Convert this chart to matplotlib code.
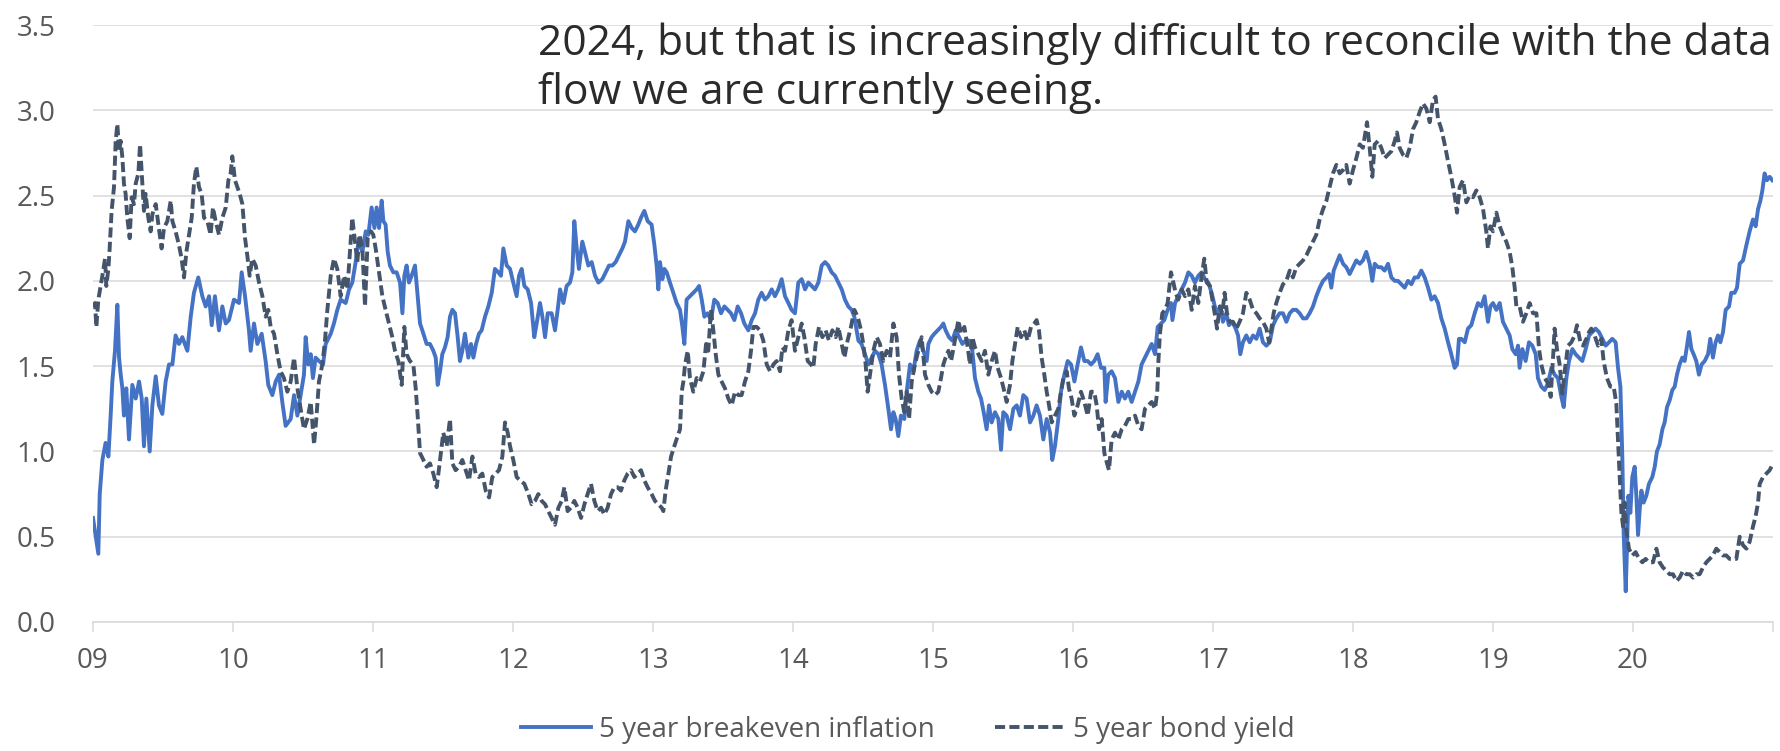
import matplotlib
matplotlib.use("Agg")
import matplotlib.pyplot as plt
import numpy as np
from matplotlib.lines import Line2D

# ---------------------------------------------------------------------------
# Data: 5 year breakeven inflation and 5 year bond yield (%), by decimal year
# ---------------------------------------------------------------------------
breakeven_t = [
    2009.000, 2009.038, 2009.048, 2009.067, 2009.090, 2009.110, 2009.126, 2009.138, 2009.157, 2009.174,
    2009.186, 2009.198, 2009.210, 2009.221, 2009.238, 2009.257, 2009.281, 2009.305, 2009.329, 2009.348,
    2009.364, 2009.381, 2009.405, 2009.424, 2009.448, 2009.471, 2009.495, 2009.519, 2009.543, 2009.567,
    2009.590, 2009.614, 2009.638, 2009.674, 2009.698, 2009.721, 2009.752, 2009.781, 2009.805, 2009.829,
    2009.848, 2009.871, 2009.900, 2009.924, 2009.948, 2009.971,
    2010.007, 2010.043, 2010.062, 2010.086, 2010.114, 2010.126, 2010.150, 2010.174, 2010.205, 2010.233,
    2010.252, 2010.281, 2010.305, 2010.329, 2010.352, 2010.376, 2010.412, 2010.436, 2010.460, 2010.483,
    2010.507, 2010.519, 2010.538, 2010.555, 2010.571, 2010.590, 2010.614, 2010.643, 2010.662, 2010.698,
    2010.721, 2010.745, 2010.769, 2010.805, 2010.829, 2010.852, 2010.876, 2010.900, 2010.924, 2010.948,
    2010.967, 2010.990,
    2011.010, 2011.026, 2011.043, 2011.062, 2011.074, 2011.090, 2011.105, 2011.121, 2011.145, 2011.169,
    2011.193, 2011.210, 2011.224, 2011.240, 2011.257, 2011.276, 2011.300, 2011.319, 2011.336, 2011.360,
    2011.383, 2011.407, 2011.431, 2011.448, 2011.462, 2011.479, 2011.495, 2011.514, 2011.533, 2011.550,
    2011.567, 2011.586, 2011.605, 2011.621, 2011.638, 2011.657, 2011.681, 2011.700, 2011.717, 2011.736,
    2011.757, 2011.776, 2011.800, 2011.824, 2011.848, 2011.871, 2011.895, 2011.914, 2011.931, 2011.955,
    2011.979,
    2012.002, 2012.026, 2012.043, 2012.062, 2012.081, 2012.105, 2012.129, 2012.152, 2012.169, 2012.193,
    2012.210, 2012.229, 2012.248, 2012.276, 2012.300, 2012.319, 2012.336, 2012.360, 2012.383, 2012.407,
    2012.424, 2012.438, 2012.455, 2012.471, 2012.495, 2012.514, 2012.538, 2012.562, 2012.586, 2012.610,
    2012.638, 2012.662, 2012.686, 2012.710, 2012.733, 2012.757, 2012.781, 2012.800, 2012.824, 2012.848,
    2012.871, 2012.895, 2012.914, 2012.938, 2012.962, 2012.990,
    2013.010, 2013.026, 2013.038, 2013.050, 2013.067, 2013.081, 2013.098, 2013.121, 2013.145, 2013.169,
    2013.193, 2013.210, 2013.224, 2013.240, 2013.264, 2013.288, 2013.312, 2013.329, 2013.348, 2013.367,
    2013.390, 2013.414, 2013.438, 2013.462, 2013.486, 2013.510, 2013.533, 2013.557, 2013.581, 2013.605,
    2013.629, 2013.652, 2013.681, 2013.705, 2013.729, 2013.752, 2013.776, 2013.800, 2013.824, 2013.848,
    2013.871, 2013.895, 2013.919, 2013.943, 2013.967, 2013.990,
    2014.014, 2014.038, 2014.062, 2014.086, 2014.110, 2014.133, 2014.157, 2014.181, 2014.205, 2014.229,
    2014.252, 2014.276, 2014.300, 2014.324, 2014.348, 2014.371, 2014.395, 2014.419, 2014.438, 2014.455,
    2014.467, 2014.490, 2014.514, 2014.538, 2014.562, 2014.586, 2014.610, 2014.633, 2014.657, 2014.681,
    2014.700, 2014.717, 2014.733, 2014.752, 2014.771, 2014.795, 2014.812, 2014.836, 2014.860, 2014.883,
    2014.907, 2014.931, 2014.955, 2014.967, 2014.990,
    2015.010, 2015.033, 2015.057, 2015.074, 2015.090, 2015.114, 2015.138, 2015.162, 2015.186, 2015.210,
    2015.233, 2015.257, 2015.281, 2015.300, 2015.324, 2015.343, 2015.362, 2015.383, 2015.400, 2015.419,
    2015.443, 2015.467, 2015.486, 2015.502, 2015.526, 2015.550, 2015.574, 2015.598, 2015.621, 2015.645,
    2015.669, 2015.693, 2015.717, 2015.740, 2015.764, 2015.788, 2015.812, 2015.836, 2015.852, 2015.871,
    2015.895, 2015.914, 2015.938, 2015.962, 2015.986,
    2016.010, 2016.033, 2016.057, 2016.081, 2016.105, 2016.129, 2016.152, 2016.176, 2016.200, 2016.224,
    2016.233, 2016.252, 2016.276, 2016.300, 2016.324, 2016.348, 2016.371, 2016.395, 2016.419, 2016.443,
    2016.467, 2016.490, 2016.514, 2016.538, 2016.562, 2016.586, 2016.605, 2016.629, 2016.652, 2016.676,
    2016.700, 2016.710, 2016.729, 2016.752, 2016.776, 2016.800, 2016.824, 2016.848, 2016.871, 2016.895,
    2016.919, 2016.943, 2016.967, 2016.990,
    2017.019, 2017.036, 2017.052, 2017.071, 2017.095, 2017.114, 2017.138, 2017.162, 2017.179, 2017.195,
    2017.214, 2017.238, 2017.262, 2017.286, 2017.310, 2017.333, 2017.357, 2017.381, 2017.405, 2017.429,
    2017.452, 2017.476, 2017.500, 2017.524, 2017.548, 2017.571, 2017.595, 2017.619, 2017.643, 2017.667,
    2017.690, 2017.714, 2017.738, 2017.762, 2017.786, 2017.810, 2017.829, 2017.845, 2017.862, 2017.881,
    2017.905, 2017.929, 2017.952, 2017.976,
    2018.000, 2018.024, 2018.048, 2018.071, 2018.095, 2018.119, 2018.138, 2018.155, 2018.179, 2018.202,
    2018.226, 2018.250, 2018.274, 2018.298, 2018.321, 2018.345, 2018.369, 2018.393, 2018.417, 2018.440,
    2018.464, 2018.488, 2018.512, 2018.536, 2018.560, 2018.583, 2018.607, 2018.631, 2018.655, 2018.679,
    2018.702, 2018.726, 2018.743, 2018.757, 2018.774, 2018.798, 2018.821, 2018.845, 2018.869, 2018.893,
    2018.917, 2018.940, 2018.964, 2018.981,
    2019.000, 2019.024, 2019.048, 2019.071, 2019.095, 2019.119, 2019.138, 2019.162, 2019.179, 2019.190,
    2019.210, 2019.233, 2019.257, 2019.281, 2019.305, 2019.321, 2019.345, 2019.369, 2019.393, 2019.417,
    2019.440, 2019.464, 2019.488, 2019.505, 2019.524, 2019.543, 2019.567, 2019.590, 2019.614, 2019.638,
    2019.662, 2019.686, 2019.710, 2019.733, 2019.757, 2019.781, 2019.805, 2019.829, 2019.852, 2019.876,
    2019.893, 2019.910, 2019.924, 2019.933, 2019.948, 2019.957, 2019.967, 2019.981, 2019.995,
    2020.012, 2020.024, 2020.036, 2020.048, 2020.060, 2020.076, 2020.095, 2020.114, 2020.138, 2020.155,
    2020.171, 2020.190, 2020.210, 2020.226, 2020.243, 2020.262, 2020.281, 2020.298, 2020.314, 2020.333,
    2020.352, 2020.369, 2020.386, 2020.400, 2020.417, 2020.433, 2020.452, 2020.471, 2020.490, 2020.512,
    2020.536, 2020.552, 2020.571, 2020.590, 2020.607, 2020.624, 2020.643, 2020.662, 2020.686, 2020.702,
    2020.726, 2020.743, 2020.762, 2020.786, 2020.810, 2020.833, 2020.857, 2020.876, 2020.893, 2020.910,
    2020.924, 2020.940, 2020.957, 2020.976, 2020.995,
]
breakeven = [
    0.61, 0.40, 0.75, 0.95, 1.05, 0.97, 1.21, 1.41, 1.59, 1.86,
    1.55, 1.45, 1.37, 1.21, 1.37, 1.07, 1.39, 1.31, 1.41, 1.31,
    1.03, 1.31, 1.00, 1.27, 1.44, 1.27, 1.22, 1.41, 1.51, 1.51,
    1.68, 1.63, 1.67, 1.59, 1.79, 1.93, 2.02, 1.91, 1.85, 1.91,
    1.74, 1.91, 1.71, 1.85, 1.75, 1.77,
    1.89, 1.87, 2.05, 1.91, 1.71, 1.59, 1.75, 1.63, 1.69, 1.53,
    1.39, 1.33, 1.41, 1.45, 1.29, 1.15, 1.19, 1.33, 1.21, 1.33,
    1.45, 1.67, 1.51, 1.57, 1.43, 1.55, 1.53, 1.51, 1.63, 1.69,
    1.75, 1.83, 1.89, 1.87, 1.95, 1.99, 2.11, 2.25, 2.17, 2.29,
    2.27, 2.43,
    2.31, 2.43, 2.31, 2.47, 2.35, 2.33, 2.17, 2.09, 2.05, 2.05,
    1.99, 1.81, 2.03, 2.09, 1.99, 2.03, 2.09, 1.91, 1.75, 1.69,
    1.63, 1.63, 1.59, 1.55, 1.39, 1.47, 1.57, 1.61, 1.67, 1.79,
    1.83, 1.81, 1.67, 1.53, 1.59, 1.69, 1.55, 1.63, 1.55, 1.63,
    1.69, 1.71, 1.79, 1.85, 1.93, 2.07, 2.05, 2.03, 2.19, 2.09,
    2.07,
    1.99, 1.91, 2.03, 2.07, 1.97, 1.95, 1.87, 1.67, 1.75, 1.87,
    1.79, 1.67, 1.81, 1.81, 1.71, 1.83, 1.95, 1.87, 1.97, 1.99,
    2.05, 2.35, 2.19, 2.07, 2.23, 2.17, 2.09, 2.11, 2.03, 1.99,
    2.01, 2.05, 2.09, 2.09, 2.11, 2.15, 2.19, 2.23, 2.35, 2.31,
    2.29, 2.33, 2.37, 2.41, 2.35, 2.33,
    2.21, 2.09, 1.95, 2.11, 2.01, 2.07, 2.05, 1.99, 1.93, 1.87,
    1.83, 1.73, 1.63, 1.89, 1.91, 1.93, 1.95, 1.97, 1.89, 1.79,
    1.81, 1.77, 1.89, 1.87, 1.81, 1.85, 1.83, 1.81, 1.77, 1.85,
    1.81, 1.75, 1.71, 1.77, 1.81, 1.89, 1.93, 1.89, 1.91, 1.95,
    1.91, 1.95, 2.01, 1.91, 1.87, 1.83,
    1.81, 1.99, 2.01, 1.95, 1.99, 1.97, 1.95, 1.99, 2.09, 2.11,
    2.09, 2.05, 2.03, 1.99, 1.95, 1.89, 1.85, 1.83, 1.79, 1.71,
    1.65, 1.63, 1.57, 1.51, 1.55, 1.59, 1.57, 1.51, 1.39, 1.25,
    1.13, 1.23, 1.19, 1.09, 1.21, 1.19, 1.35, 1.51, 1.47, 1.59,
    1.65, 1.59, 1.53, 1.63, 1.67,
    1.69, 1.71, 1.73, 1.75, 1.71, 1.67, 1.65, 1.71, 1.67, 1.63,
    1.65, 1.65, 1.59, 1.43, 1.35, 1.31, 1.23, 1.13, 1.27, 1.17,
    1.23, 1.19, 1.01, 1.23, 1.21, 1.13, 1.25, 1.27, 1.21, 1.33,
    1.31, 1.17, 1.21, 1.27, 1.21, 1.07, 1.19, 1.11, 0.95, 1.03,
    1.19, 1.35, 1.45, 1.53, 1.51,
    1.41, 1.51, 1.61, 1.53, 1.53, 1.51, 1.53, 1.57, 1.49, 1.49,
    1.29, 1.45, 1.47, 1.43, 1.29, 1.35, 1.31, 1.35, 1.29, 1.35,
    1.41, 1.51, 1.55, 1.59, 1.63, 1.57, 1.73, 1.75, 1.77, 1.83,
    1.87, 1.77, 1.87, 1.91, 1.95, 1.99, 2.05, 2.03, 1.99, 2.03,
    2.05, 2.01, 1.99, 1.93,
    1.83, 1.81, 1.85, 1.76, 1.81, 1.74, 1.76, 1.72, 1.68, 1.57,
    1.64, 1.68, 1.64, 1.68, 1.66, 1.72, 1.64, 1.62, 1.64, 1.74,
    1.78, 1.81, 1.81, 1.76, 1.81, 1.83, 1.83, 1.81, 1.78, 1.78,
    1.81, 1.85, 1.91, 1.96, 2.00, 2.02, 2.04, 1.96, 2.06, 2.10,
    2.15, 2.10, 2.08, 2.04,
    2.08, 2.12, 2.10, 2.12, 2.17, 2.10, 2.00, 2.10, 2.08, 2.08,
    2.06, 2.10, 2.02, 2.00, 2.00, 1.98, 1.96, 2.00, 1.98, 2.02,
    2.02, 2.06, 2.02, 1.96, 1.89, 1.91, 1.87, 1.78, 1.72, 1.64,
    1.57, 1.49, 1.51, 1.66, 1.66, 1.64, 1.72, 1.74, 1.81, 1.87,
    1.85, 1.91, 1.76, 1.85,
    1.87, 1.83, 1.87, 1.76, 1.72, 1.68, 1.60, 1.57, 1.62, 1.49,
    1.60, 1.53, 1.64, 1.62, 1.57, 1.43, 1.38, 1.36, 1.40, 1.49,
    1.45, 1.43, 1.32, 1.26, 1.43, 1.53, 1.60, 1.57, 1.55, 1.53,
    1.60, 1.68, 1.70, 1.72, 1.70, 1.66, 1.62, 1.64, 1.66, 1.64,
    1.49, 1.38, 0.96, 0.53, 0.18, 0.43, 0.74, 0.64, 0.85,
    0.91, 0.74, 0.51, 0.66, 0.77, 0.70, 0.74, 0.81, 0.85, 0.91,
    1.00, 1.04, 1.13, 1.17, 1.26, 1.30, 1.36, 1.38, 1.45, 1.51,
    1.55, 1.53, 1.62, 1.70, 1.60, 1.57, 1.53, 1.45, 1.51, 1.53,
    1.57, 1.66, 1.55, 1.64, 1.68, 1.64, 1.70, 1.83, 1.85, 1.93,
    1.93, 1.96, 2.10, 2.12, 2.21, 2.29, 2.36, 2.32, 2.42, 2.47,
    2.53, 2.63, 2.59, 2.61, 2.59,
]

bond_t = [
    2009.000, 2009.014, 2009.024, 2009.038, 2009.055, 2009.067, 2009.086, 2009.095, 2009.110, 2009.119,
    2009.133, 2009.150, 2009.162, 2009.174, 2009.186, 2009.198, 2009.210, 2009.221, 2009.233, 2009.245,
    2009.262, 2009.276, 2009.293, 2009.305, 2009.324, 2009.336, 2009.348, 2009.364, 2009.376, 2009.395,
    2009.412, 2009.424, 2009.448, 2009.467, 2009.490, 2009.507, 2009.531, 2009.555, 2009.567, 2009.590,
    2009.614, 2009.633, 2009.650, 2009.667, 2009.686, 2009.705, 2009.721, 2009.738, 2009.757, 2009.776,
    2009.793, 2009.817, 2009.840, 2009.857, 2009.876, 2009.900, 2009.924, 2009.948, 2009.967, 2009.983, 2009.995,
    2010.014, 2010.031, 2010.048, 2010.067, 2010.086, 2010.102, 2010.119, 2010.138, 2010.162, 2010.186,
    2010.210, 2010.233, 2010.252, 2010.269, 2010.293, 2010.317, 2010.340, 2010.364, 2010.388, 2010.412,
    2010.436, 2010.460, 2010.483, 2010.507, 2010.531, 2010.555, 2010.579, 2010.595, 2010.614, 2010.638,
    2010.657, 2010.674, 2010.698, 2010.721, 2010.745, 2010.769, 2010.793, 2010.817, 2010.840, 2010.852,
    2010.871, 2010.888, 2010.905, 2010.924, 2010.943, 2010.962, 2010.986,
    2011.002, 2011.019, 2011.043, 2011.067, 2011.090, 2011.114, 2011.138, 2011.157, 2011.181, 2011.205,
    2011.224, 2011.240, 2011.264, 2011.288, 2011.305, 2011.319, 2011.336, 2011.360, 2011.383, 2011.407,
    2011.431, 2011.455, 2011.479, 2011.502, 2011.526, 2011.550, 2011.567, 2011.590, 2011.614, 2011.638,
    2011.662, 2011.686, 2011.710, 2011.733, 2011.757, 2011.781, 2011.805, 2011.829, 2011.852, 2011.876,
    2011.900, 2011.924, 2011.943, 2011.962, 2011.979,
    2012.002, 2012.026, 2012.050, 2012.081, 2012.110, 2012.133, 2012.157, 2012.181, 2012.205, 2012.229,
    2012.252, 2012.276, 2012.300, 2012.324, 2012.348, 2012.367, 2012.390, 2012.414, 2012.438, 2012.462,
    2012.486, 2012.510, 2012.533, 2012.557, 2012.581, 2012.605, 2012.629, 2012.652, 2012.676, 2012.700,
    2012.724, 2012.748, 2012.771, 2012.795, 2012.819, 2012.843, 2012.867, 2012.890, 2012.914, 2012.938,
    2012.962, 2012.990,
    2013.014, 2013.038, 2013.062, 2013.074, 2013.090, 2013.110, 2013.129, 2013.152, 2013.176, 2013.193,
    2013.205, 2013.217, 2013.229, 2013.248, 2013.264, 2013.288, 2013.312, 2013.336, 2013.360, 2013.379,
    2013.395, 2013.414, 2013.431, 2013.448, 2013.467, 2013.490, 2013.514, 2013.538, 2013.562, 2013.586,
    2013.610, 2013.633, 2013.657, 2013.681, 2013.700, 2013.717, 2013.740, 2013.764, 2013.788, 2013.812,
    2013.836, 2013.860, 2013.883, 2013.907, 2013.924, 2013.943, 2013.967, 2013.990,
    2014.014, 2014.038, 2014.062, 2014.081, 2014.105, 2014.129, 2014.145, 2014.162, 2014.186, 2014.210,
    2014.233, 2014.257, 2014.281, 2014.305, 2014.324, 2014.348, 2014.367, 2014.390, 2014.414, 2014.438,
    2014.462, 2014.486, 2014.502, 2014.519, 2014.533, 2014.550, 2014.574, 2014.598, 2014.621, 2014.645,
    2014.669, 2014.693, 2014.717, 2014.740, 2014.757, 2014.776, 2014.795, 2014.812, 2014.829, 2014.848,
    2014.871, 2014.895, 2014.919, 2014.943, 2014.967, 2014.990,
    2015.014, 2015.038, 2015.057, 2015.074, 2015.090, 2015.110, 2015.129, 2015.152, 2015.169, 2015.181,
    2015.200, 2015.224, 2015.248, 2015.264, 2015.281, 2015.300, 2015.324, 2015.348, 2015.371, 2015.395,
    2015.419, 2015.443, 2015.462, 2015.486, 2015.510, 2015.526, 2015.550, 2015.567, 2015.586, 2015.605,
    2015.629, 2015.652, 2015.676, 2015.700, 2015.724, 2015.740, 2015.757, 2015.776, 2015.795, 2015.812,
    2015.829, 2015.848, 2015.871, 2015.895, 2015.914, 2015.931, 2015.955, 2015.971, 2015.990,
    2016.010, 2016.033, 2016.057, 2016.081, 2016.105, 2016.129, 2016.152, 2016.169, 2016.186, 2016.205,
    2016.224, 2016.243, 2016.257, 2016.276, 2016.300, 2016.324, 2016.348, 2016.371, 2016.395, 2016.419,
    2016.443, 2016.467, 2016.490, 2016.514, 2016.538, 2016.562, 2016.586, 2016.602, 2016.610, 2016.621,
    2016.638, 2016.657, 2016.676, 2016.700, 2016.717, 2016.733, 2016.752, 2016.776, 2016.800, 2016.824,
    2016.848, 2016.871, 2016.895, 2016.919, 2016.938, 2016.955, 2016.979,
    2017.012, 2017.029, 2017.048, 2017.067, 2017.083, 2017.100, 2017.119, 2017.143, 2017.167, 2017.190,
    2017.214, 2017.238, 2017.262, 2017.286, 2017.310, 2017.333, 2017.357, 2017.381, 2017.400, 2017.417,
    2017.433, 2017.452, 2017.476, 2017.500, 2017.524, 2017.548, 2017.571, 2017.595, 2017.619, 2017.643,
    2017.667, 2017.690, 2017.714, 2017.738, 2017.762, 2017.786, 2017.810, 2017.833, 2017.857, 2017.881,
    2017.905, 2017.929, 2017.952, 2017.976,
    2018.000, 2018.024, 2018.048, 2018.071, 2018.100, 2018.119, 2018.138, 2018.155, 2018.179, 2018.202,
    2018.226, 2018.250, 2018.274, 2018.298, 2018.314, 2018.333, 2018.357, 2018.381, 2018.405, 2018.429,
    2018.452, 2018.476, 2018.500, 2018.524, 2018.548, 2018.571, 2018.590, 2018.607, 2018.631, 2018.655,
    2018.679, 2018.702, 2018.726, 2018.743, 2018.762, 2018.786, 2018.810, 2018.833, 2018.857, 2018.881,
    2018.905, 2018.929, 2018.952, 2018.964, 2018.981,
    2019.000, 2019.024, 2019.048, 2019.071, 2019.095, 2019.119, 2019.138, 2019.155, 2019.167, 2019.190,
    2019.214, 2019.238, 2019.262, 2019.286, 2019.310, 2019.329, 2019.345, 2019.369, 2019.393, 2019.412,
    2019.429, 2019.440, 2019.457, 2019.476, 2019.495, 2019.512, 2019.536, 2019.560, 2019.583, 2019.600,
    2019.624, 2019.643, 2019.667, 2019.686, 2019.702, 2019.726, 2019.750, 2019.774, 2019.790, 2019.814,
    2019.838, 2019.862, 2019.881, 2019.893, 2019.905, 2019.917, 2019.929, 2019.940, 2019.952, 2019.971, 2019.995,
    2020.019, 2020.043, 2020.067, 2020.090, 2020.114, 2020.143, 2020.167, 2020.190, 2020.214, 2020.238,
    2020.262, 2020.286, 2020.310, 2020.333, 2020.357, 2020.381, 2020.405, 2020.429, 2020.452, 2020.476,
    2020.500, 2020.524, 2020.548, 2020.571, 2020.595, 2020.619, 2020.643, 2020.667, 2020.690, 2020.714,
    2020.738, 2020.762, 2020.786, 2020.810, 2020.833, 2020.857, 2020.876, 2020.893, 2020.905, 2020.929,
    2020.952, 2020.976, 2020.995,
]
bond_yield = [
    1.85, 1.87, 1.73, 1.89, 1.97, 2.03, 2.13, 1.97, 2.07, 2.19,
    2.41, 2.55, 2.82, 2.92, 2.76, 2.82, 2.72, 2.57, 2.51, 2.37,
    2.25, 2.49, 2.45, 2.57, 2.63, 2.80, 2.63, 2.41, 2.51, 2.37,
    2.29, 2.39, 2.45, 2.33, 2.19, 2.31, 2.35, 2.47, 2.35, 2.29,
    2.21, 2.13, 2.02, 2.17, 2.27, 2.37, 2.57, 2.67, 2.55, 2.51,
    2.37, 2.35, 2.27, 2.43, 2.35, 2.27, 2.37, 2.43, 2.59, 2.63, 2.73,
    2.59, 2.55, 2.51, 2.45, 2.25, 2.15, 2.03, 2.13, 2.09, 1.99,
    1.91, 1.79, 1.83, 1.73, 1.69, 1.57, 1.47, 1.43, 1.35, 1.41,
    1.55, 1.37, 1.25, 1.13, 1.19, 1.29, 1.04, 1.19, 1.41, 1.51,
    1.65, 1.83, 2.03, 2.13, 2.07, 1.91, 2.03, 1.95, 2.23, 2.37,
    2.23, 2.11, 2.27, 2.19, 1.85, 2.25, 2.29,
    2.27, 2.19, 2.05, 1.91, 1.83, 1.75, 1.67, 1.59, 1.53, 1.39,
    1.73, 1.57, 1.53, 1.51, 1.37, 1.21, 0.99, 0.95, 0.91, 0.93,
    0.87, 0.79, 0.95, 1.11, 1.03, 1.19, 0.93, 0.89, 0.91, 0.95,
    0.89, 0.83, 0.97, 0.87, 0.85, 0.87, 0.77, 0.73, 0.85, 0.87,
    0.89, 0.97, 1.17, 1.11, 1.03,
    0.95, 0.85, 0.83, 0.81, 0.75, 0.69, 0.71, 0.75, 0.71, 0.69,
    0.65, 0.61, 0.57, 0.67, 0.71, 0.79, 0.65, 0.67, 0.71, 0.67,
    0.61, 0.69, 0.75, 0.81, 0.71, 0.65, 0.67, 0.63, 0.67, 0.75,
    0.79, 0.79, 0.77, 0.83, 0.87, 0.89, 0.85, 0.87, 0.89, 0.83,
    0.79, 0.75,
    0.71, 0.69, 0.67, 0.65, 0.77, 0.87, 0.97, 1.03, 1.09, 1.13,
    1.35, 1.41, 1.51, 1.59, 1.43, 1.35, 1.43, 1.41, 1.47, 1.63,
    1.59, 1.83, 1.71, 1.57, 1.45, 1.41, 1.37, 1.31, 1.27, 1.35,
    1.33, 1.33, 1.41, 1.47, 1.59, 1.73, 1.73, 1.71, 1.65, 1.51,
    1.47, 1.51, 1.53, 1.47, 1.61, 1.59, 1.71, 1.77,
    1.59, 1.67, 1.75, 1.67, 1.53, 1.51, 1.49, 1.63, 1.73, 1.67,
    1.71, 1.65, 1.71, 1.67, 1.73, 1.63, 1.55, 1.65, 1.73, 1.83,
    1.79, 1.71, 1.63, 1.51, 1.35, 1.45, 1.59, 1.67, 1.63, 1.53,
    1.59, 1.55, 1.75, 1.67, 1.45, 1.31, 1.23, 1.35, 1.19, 1.41,
    1.51, 1.59, 1.67, 1.45, 1.39, 1.35,
    1.33, 1.35, 1.43, 1.51, 1.55, 1.59, 1.53, 1.63, 1.71, 1.77,
    1.69, 1.73, 1.61, 1.51, 1.67, 1.61, 1.57, 1.53, 1.59, 1.45,
    1.53, 1.59, 1.49, 1.43, 1.35, 1.29, 1.39, 1.53, 1.63, 1.73,
    1.67, 1.71, 1.65, 1.73, 1.75, 1.77, 1.71, 1.55, 1.45, 1.35,
    1.27, 1.17, 1.21, 1.25, 1.35, 1.43, 1.47, 1.37, 1.31,
    1.21, 1.27, 1.35, 1.29, 1.21, 1.35, 1.35, 1.27, 1.13, 1.19,
    0.99, 0.93, 0.89, 1.07, 1.11, 1.07, 1.13, 1.15, 1.19, 1.19,
    1.21, 1.15, 1.13, 1.25, 1.27, 1.29, 1.25, 1.35, 1.53, 1.69,
    1.81, 1.83, 1.87, 2.05, 1.99, 1.93, 1.89, 1.95, 1.91, 1.95,
    1.83, 1.97, 1.87, 2.03, 2.13, 1.99, 1.97,
    1.81, 1.72, 1.85, 1.81, 1.93, 1.81, 1.76, 1.76, 1.72, 1.76,
    1.81, 1.93, 1.89, 1.83, 1.81, 1.78, 1.76, 1.72, 1.64, 1.72,
    1.81, 1.87, 1.93, 1.98, 2.00, 2.06, 2.02, 2.08, 2.10, 2.12,
    2.15, 2.19, 2.23, 2.27, 2.36, 2.42, 2.47, 2.55, 2.63, 2.68,
    2.63, 2.65, 2.68, 2.57,
    2.65, 2.72, 2.80, 2.78, 2.93, 2.78, 2.61, 2.80, 2.82, 2.78,
    2.72, 2.74, 2.76, 2.82, 2.87, 2.78, 2.74, 2.72, 2.78, 2.89,
    2.93, 2.99, 3.04, 3.01, 2.93, 3.06, 3.08, 2.95, 2.89, 2.80,
    2.70, 2.61, 2.50, 2.40, 2.55, 2.59, 2.46, 2.50, 2.49, 2.53,
    2.49, 2.42, 2.29, 2.19, 2.32,
    2.29, 2.40, 2.32, 2.27, 2.23, 2.17, 2.08, 1.96, 1.85, 1.85,
    1.76, 1.81, 1.87, 1.81, 1.81, 1.60, 1.51, 1.43, 1.40, 1.32,
    1.55, 1.72, 1.60, 1.51, 1.34, 1.47, 1.62, 1.64, 1.68, 1.74,
    1.64, 1.62, 1.66, 1.70, 1.72, 1.68, 1.62, 1.66, 1.53, 1.43,
    1.38, 1.38, 1.28, 1.06, 0.85, 0.64, 0.56, 0.70, 0.54, 0.43, 0.39,
    0.41, 0.37, 0.35, 0.37, 0.35, 0.35, 0.43, 0.35, 0.32, 0.30,
    0.28, 0.28, 0.24, 0.26, 0.30, 0.28, 0.28, 0.26, 0.28, 0.28,
    0.32, 0.35, 0.37, 0.39, 0.43, 0.41, 0.39, 0.39, 0.37, 0.37,
    0.37, 0.50, 0.45, 0.43, 0.47, 0.56, 0.62, 0.70, 0.81, 0.85,
    0.87, 0.89, 0.92,
]

if len(breakeven_t) != len(breakeven) or len(bond_t) != len(bond_yield):
    raise ValueError(f"length mismatch: {len(breakeven_t)}/{len(breakeven)} "
                     f"{len(bond_t)}/{len(bond_yield)}")

year_ticks = list(range(2009, 2022))
year_labels = ["09", "10", "11", "12", "13", "14", "15", "16", "17", "18", "19", "20", ""]
y_ticks = [0.0, 0.5, 1.0, 1.5, 2.0, 2.5, 3.0, 3.5]

series_names = ["5 year breakeven inflation", "5 year bond yield"]
note_lines = [
    "2024, but that is increasingly difficult to reconcile with the data",
    "flow we are currently seeing.",
]

# ---------------------------------------------------------------------------
# Styling
# ---------------------------------------------------------------------------
FONT = "Open Sans"
BLUE = "#4472C4"
SLATE = "#44546A"
GRID = "#D9D9D9"
LABEL = "#595959"
LW = 2.8
DASH = (0, (2.6, 1.1))

W, H = 1780, 751
fig = plt.figure(figsize=(W / 100, H / 100), dpi=100)
ax = fig.add_axes([93 / W, 1 - 622 / H, (1773 - 93) / W, (622 - 25) / H])

ax.plot(breakeven_t, breakeven, color=BLUE, lw=LW, solid_joinstyle="round", zorder=3)
ax.plot(bond_t, bond_yield, color=SLATE, lw=LW, linestyle=DASH,
        dash_capstyle="butt", zorder=3)

ax.set_xlim(2009, 2021)
ax.set_ylim(0, 3.5)
ax.set_xticks(year_ticks)
ax.set_xticklabels(year_labels)
ax.set_yticks(y_ticks)
ax.set_yticklabels([f"{v:.1f}" for v in y_ticks])

ax.grid(axis="y", color=GRID, lw=1.1, zorder=0)
ax.set_axisbelow(True)
for side in ("left", "right", "top"):
    ax.spines[side].set_visible(False)
ax.spines["bottom"].set_color(GRID)
ax.spines["bottom"].set_linewidth(1.1)

ax.tick_params(axis="x", length=7, width=1.1, color=GRID, pad=11,
               labelsize=20, labelcolor=LABEL)
ax.tick_params(axis="y", length=0, pad=27, labelsize=20, labelcolor=LABEL)
for lbl in ax.get_xticklabels() + ax.get_yticklabels():
    lbl.set_fontfamily(FONT)

# Commentary text laid over the top of the plot
for i, line in enumerate(note_lines):
    fig.text(538 / W, 1 - (55 + 48.5 * i) / H, line, fontsize=30.5,
             family=FONT, color="#2B2B2B", va="baseline", ha="left")

handles = [
    Line2D([], [], color=BLUE, lw=LW),
    Line2D([], [], color=SLATE, lw=LW, linestyle=DASH),
]
fig.legend(handles, series_names, loc="center", bbox_to_anchor=(0.510, 0.028),
           ncol=2, frameon=False, handlelength=2.5, handletextpad=0.3,
           columnspacing=2.15, prop={"family": FONT, "size": 20},
           labelcolor=LABEL)

fig.savefig("out.png", dpi=100)
